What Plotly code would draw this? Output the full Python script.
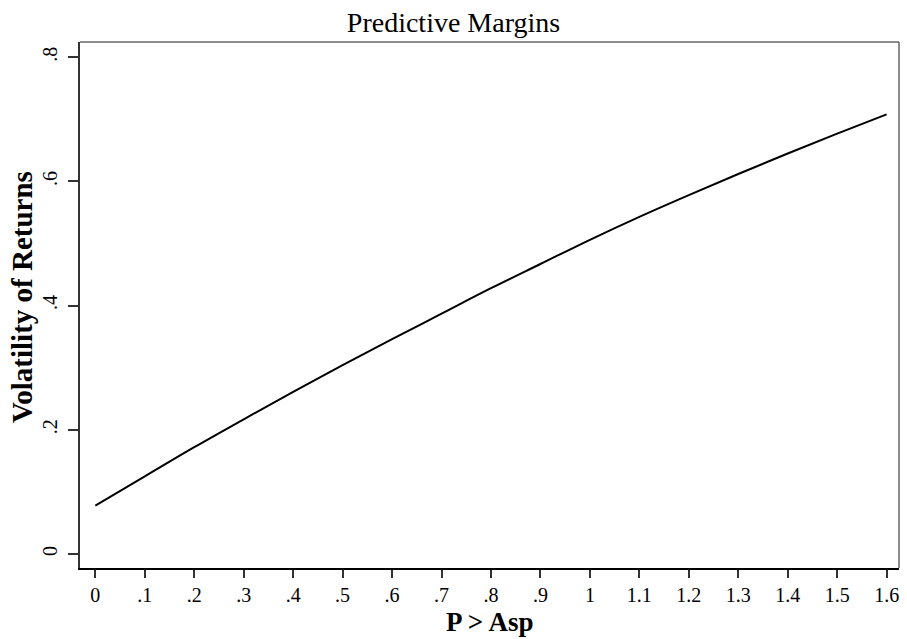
import plotly.graph_objects as go

x_vals = [0.0, 0.1, 0.2, 0.3, 0.4, 0.5, 0.6, 0.7, 0.8, 0.9, 1.0, 1.1, 1.2, 1.3, 1.4, 1.5, 1.6]
y_vals = [0.078, 0.125, 0.172, 0.217, 0.261, 0.304, 0.346, 0.387, 0.428, 0.467,
          0.506, 0.543, 0.578, 0.612, 0.645, 0.677, 0.708]
x_ticks = [0.0, 0.1, 0.2, 0.3, 0.4, 0.5, 0.6, 0.7, 0.8, 0.9, 1.0, 1.1, 1.2, 1.3, 1.4, 1.5, 1.6]
x_tick_labels = ["0", ".1", ".2", ".3", ".4", ".5", ".6", ".7", ".8", ".9",
                 "1", "1.1", "1.2", "1.3", "1.4", "1.5", "1.6"]
y_ticks = [0.0, 0.2, 0.4, 0.6, 0.8]
y_tick_labels = ["0", ".2", ".4", ".6", ".8"]

SERIF = "Liberation Serif, Times New Roman, serif"

fig = go.Figure()
fig.add_trace(go.Scatter(x=x_vals, y=y_vals, mode="lines",
                         line=dict(color="black", width=2, shape="spline"),
                         showlegend=False, hoverinfo="skip"))

fig.update_layout(
    width=907, height=639,
    margin=dict(l=80, r=8, t=42, b=71, autoexpand=False),
    paper_bgcolor="white", plot_bgcolor="white",
    title=dict(text="Predictive Margins", x=0.5, xref="container", xanchor="center",
               y=1 - 22 / 639, yref="container", yanchor="middle",
               font=dict(family=SERIF, size=28, color="black")),
    font=dict(family=SERIF, color="black"),
)

fig.update_xaxes(range=[-0.031, 1.625], tickmode="array", tickvals=x_ticks,
                 ticktext=x_tick_labels, ticks="outside", ticklen=8, tickwidth=1.5,
                 tickcolor="#333333", showgrid=False, zeroline=False,
                 showline=True, linecolor="black", linewidth=2,
                 tickfont=dict(family=SERIF, size=20, color="black"),
                 ticklabelstandoff=0, automargin=False)
fig.update_yaxes(range=[-0.0225, 0.8245], tickmode="array", tickvals=y_ticks,
                 ticktext=y_tick_labels, ticks="outside", ticklen=10, tickwidth=1.5,
                 tickcolor="#333333", showgrid=False, zeroline=False,
                 showline=True, linecolor="#333333", linewidth=1.5,
                 tickangle=-90,
                 tickfont=dict(family=SERIF, size=20, color="black"),
                 ticklabelstandoff=3, automargin=False)

# axis titles placed as annotations
fig.add_annotation(text="<b>P > Asp</b>", xref="paper", yref="paper",
                   x=0.5, y=-(622 - 568) / 526, xanchor="center", yanchor="middle",
                   showarrow=False, font=dict(family=SERIF, size=27, color="black"))
fig.add_annotation(text="<b>Volatility of Returns</b>", xref="paper", yref="paper",
                   x=(22 - 80) / 819, y=(568 - 297) / 526, xanchor="center", yanchor="middle",
                   textangle=-90, showarrow=False,
                   font=dict(family=SERIF, size=29, color="black"))

# gray frame on top and right
fig.add_shape(type="line", xref="paper", yref="paper", x0=0, x1=1, y0=1, y1=1,
              line=dict(color="#666666", width=1.5))
fig.add_shape(type="line", xref="paper", yref="paper", x0=1, x1=1, y0=0, y1=1,
              line=dict(color="#666666", width=1.5))

fig.write_html("out.html", config={"displayModeBar": False},
               post_script="document.body.style.margin='0';document.body.style.overflow='hidden';")
